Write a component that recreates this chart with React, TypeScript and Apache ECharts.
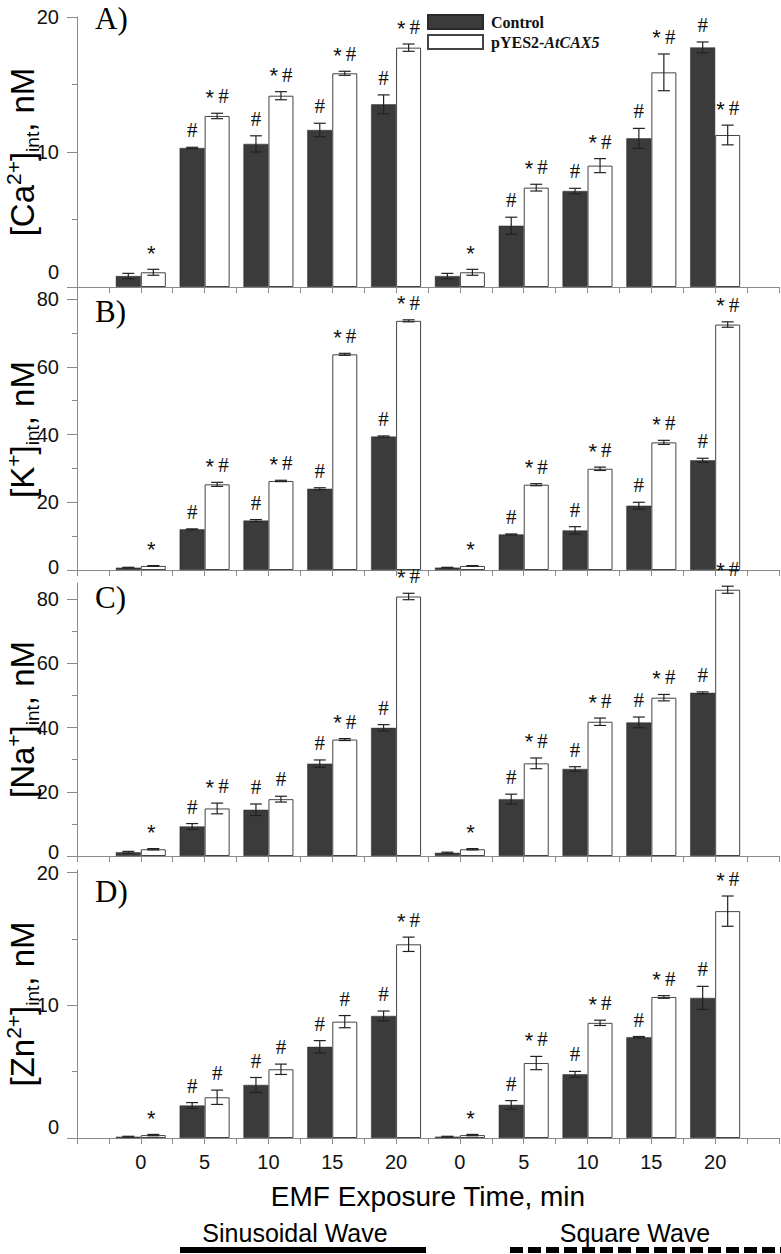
import React, { useEffect, useRef } from 'react';
import * as echarts from 'echarts';

// ---- categories / labels ----
const groupPos = [1, 2, 3, 4, 5, 6, 7, 8, 9, 10];
const timeLabels = ['0', '5', '10', '15', '20', '0', '5', '10', '15', '20'];
const seriesNames = ['Control', 'pYES2-AtCAX5'];
const waveLabels = ['Sinusoidal Wave', 'Square Wave'];
const panelLetters = ['A)', 'B)', 'C)', 'D)'];
const ionNames = ['Ca', 'K', 'Na', 'Zn'];
const ionCharges = ['2+', '+', '+', '2+'];

// ---- tick labels ----
const caTicks = [0, 10, 20];
const caMinorTicks = [5, 15];
const kTicks = [0, 20, 40, 60, 80];
const kMinorTicks = [10, 30, 50, 70];
const naTicks = [0, 20, 40, 60, 80];
const naMinorTicks = [10, 30, 50, 70];
const znTicks = [0, 10, 20];
const znMinorTicks = [5, 15];

// ---- A) Ca ----
const caControl = [0.81, 10.3, 10.6, 11.63, 13.53, 0.81, 4.54, 7.11, 11.01, 17.75];
const caControlErr = [0.2, 0.05, 0.6, 0.5, 0.7, 0.2, 0.63, 0.2, 0.74, 0.4];
const caCax = [1.09, 12.67, 14.17, 15.83, 17.73, 1.09, 7.36, 8.99, 15.9, 11.26];
const caCaxErr = [0.22, 0.2, 0.3, 0.15, 0.27, 0.22, 0.25, 0.52, 1.36, 0.73];
const caControlMarks = ['', '#', '#', '#', '#', '', '#', '#', '#', '#'];
const caCaxMarks = ['*', '*#', '*#', '*#', '*#', '*', '*#', '*#', '*#', '*#'];

// ---- B) K ----
const kControl = [0.7, 12.0, 14.6, 24.0, 39.4, 0.7, 10.5, 11.7, 19.0, 32.4];
const kControlErr = [0.1, 0.15, 0.3, 0.3, 0.2, 0.1, 0.15, 1.1, 1.0, 0.6];
const kCax = [1.2, 25.3, 26.3, 63.7, 73.6, 1.2, 25.2, 29.9, 37.7, 72.5];
const kCaxErr = [0.1, 0.6, 0.2, 0.3, 0.3, 0.1, 0.3, 0.5, 0.6, 0.8];
const kControlMarks = ['', '#', '#', '#', '#', '', '#', '#', '#', '#'];
const kCaxMarks = ['*', '*#', '*#', '*#', '*#', '*', '*#', '*#', '*#', '*#'];

// ---- C) Na ----
const naControl = [1.15, 9.2, 14.4, 28.75, 39.9, 1.0, 17.7, 27.1, 41.6, 50.8];
const naControlErr = [0.3, 0.9, 1.8, 1.15, 1.0, 0.2, 1.56, 0.7, 1.67, 0.3];
const naCax = [2.1, 14.8, 17.7, 36.25, 80.8, 2.1, 28.85, 41.8, 49.3, 82.9];
const naCaxErr = [0.2, 1.67, 0.9, 0.3, 1.0, 0.2, 1.67, 1.15, 1.0, 1.1];
const naControlMarks = ['', '#', '#', '#', '#', '', '#', '#', '#', '#'];
const naCaxMarks = ['*', '*#', '#', '*#', '*#', '*', '*#', '*#', '*#', '*#'];

// ---- D) Zn ----
const znControl = [0.1, 2.45, 4.0, 6.87, 9.2, 0.1, 2.5, 4.8, 7.6, 10.56];
const znControlErr = [0.03, 0.22, 0.56, 0.47, 0.37, 0.03, 0.32, 0.22, 0.05, 0.87];
const znCax = [0.22, 3.07, 5.18, 8.77, 14.6, 0.22, 5.65, 8.68, 10.63, 17.1];
const znCaxErr = [0.05, 0.54, 0.39, 0.46, 0.54, 0.05, 0.5, 0.2, 0.1, 1.14];
const znControlMarks = ['', '#', '#', '#', '#', '', '#', '#', '#', '#'];
const znCaxMarks = ['*', '#', '#', '#', '*#', '*', '*#', '*#', '*#', '*#'];

const panelData = [
  { ticks: caTicks, minor: caMinorTicks, c: caControl, cE: caControlErr, p: caCax, pE: caCaxErr, cM: caControlMarks, pM: caCaxMarks },
  { ticks: kTicks, minor: kMinorTicks, c: kControl, cE: kControlErr, p: kCax, pE: kCaxErr, cM: kControlMarks, pM: kCaxMarks },
  { ticks: naTicks, minor: naMinorTicks, c: naControl, cE: naControlErr, p: naCax, pE: naCaxErr, cM: naControlMarks, pM: naCaxMarks },
  { ticks: znTicks, minor: znMinorTicks, c: znControl, cE: znControlErr, p: znCax, pE: znCaxErr, cM: znControlMarks, pM: znCaxMarks },
];

// ---- layout / style ----
const GRID_LEFT = 77;
const GRID_RIGHT = 2;
const gridTops = [17, 289, 583, 870];
const gridHeights = [270, 281, 273, 268];
const yMax = [20, 83, 85, 20.2];
const zeroLift = [15, 3, 4, 11];
const letterY = [20, 313, 599, 893];
const HALF = 12.5;
const BAR_W = 25;
const CAP = 6;
const AXIS_COLOR = '#8a8a8a';
const DARK = '#3b3b3b';
const SANS = '"Liberation Sans", Arial, sans-serif';
const SERIF = '"Liberation Serif", "Times New Roman", serif';

function markText(m: string) {
  if (m === '*#') return '{s|*}{h|#}';
  if (m === '*') return '{s|*}';
  if (m === '#') return '{h|#}';
  return '';
}

function makeErrSeries(i: number, vals: number[], errs: number[], marks: string[], side: number) {
  return {
    type: 'custom',
    xAxisIndex: i,
    yAxisIndex: i * 2,
    clip: false,
    silent: true,
    z: 5,
    data: groupPos.map((x, j) => [x, vals[j], errs[j]]),
    renderItem: (params: any, api: any) => {
      const x = api.value(0);
      const v = api.value(1);
      const e = api.value(2);
      const hi = api.coord([x, v + e]);
      const lo = api.coord([x, v - e]);
      const cx = hi[0] + side * HALF;
      const stroke = { stroke: '#222', lineWidth: 1.2 };
      const mark = marks[params.dataIndex];
      return {
        type: 'group',
        children: [
          { type: 'line', shape: { x1: cx, y1: hi[1], x2: cx, y2: lo[1] }, style: stroke },
          { type: 'line', shape: { x1: cx - CAP, y1: hi[1], x2: cx + CAP, y2: hi[1] }, style: stroke },
          { type: 'line', shape: { x1: cx - CAP, y1: lo[1], x2: cx + CAP, y2: lo[1] }, style: stroke },
          {
            type: 'text',
            style: {
              text: markText(mark),
              x: cx,
              y: hi[1] - 17,
              align: 'center',
              verticalAlign: 'middle',
              textAlign: 'center',
              textVerticalAlign: 'middle',
              fill: '#111',
              rich: {
                s: { fontFamily: SANS, fontSize: 22, fill: '#111', padding: [2, 4, 0, 0] },
                h: { fontFamily: SERIF, fontSize: 21, fill: '#111' },
              },
            },
          },
        ],
      };
    },
  };
}

function buildOption() {
  const grid: any[] = [];
  const xAxis: any[] = [];
  const yAxis: any[] = [];
  const series: any[] = [];

  panelData.forEach((pd, i) => {
    grid.push({
      left: GRID_LEFT,
      right: GRID_RIGHT,
      top: gridTops[i],
      height: gridHeights[i],
      containLabel: false,
      outerBoundsMode: 'none',
    });
    const isLast = i === panelData.length - 1;
    xAxis.push({
      type: 'value',
      gridIndex: i,
      min: 0,
      max: 11,
      interval: 0.5,
      axisLine: { show: true, lineStyle: { color: AXIS_COLOR, width: 1 } },
      axisTick: { show: true, length: 6, lineStyle: { color: AXIS_COLOR } },
      splitLine: { show: false },
      axisLabel: {
        show: isLast,
        margin: 14,
        fontSize: 20,
        fontFamily: SANS,
        color: '#111',
        formatter: (v: number) => {
          const j = groupPos.indexOf(v);
          return j >= 0 ? timeLabels[j] : '';
        },
      },
      name: isLast ? 'EMF Exposure Time, min' : '',
      nameLocation: 'middle',
      nameGap: 44,
      nameMoveOverlap: false,
      nameTextStyle: { fontSize: 28, fontFamily: SANS, color: '#000' },
    });
    const lift = zeroLift[i];
    yAxis.push({
      type: 'value',
      gridIndex: i,
      min: 0,
      max: yMax[i],
      position: 'left',
      axisLine: { show: true, lineStyle: { color: AXIS_COLOR, width: 1 } },
      axisTick: { show: true, length: 10, customValues: pd.ticks, lineStyle: { color: AXIS_COLOR } },
      splitLine: { show: false },
      axisLabel: {
        customValues: pd.ticks,
        margin: 18,
        fontSize: 20,
        fontFamily: SANS,
        color: '#111',
        formatter: (v: number) => (v === 0 ? '{z|0}' : String(v)),
        rich: { z: { fontSize: 20, fontFamily: SANS, color: '#111', padding: [0, 0, lift * 2, 0] } },
      },
      name: `{b|[${ionNames[i]}}{sup|${ionCharges[i]}}{b|]}{sub|int}{b|, nM}`,
      nameLocation: 'middle',
      nameRotate: 90,
      nameGap: 35,
      nameMoveOverlap: false,
      nameTextStyle: {
        rich: {
          b: { fontSize: 33, fontFamily: SANS, color: '#000' },
          sup: { fontSize: 21, fontFamily: SANS, color: '#000', padding: [0, 0, 18, 0] },
          sub: { fontSize: 19, fontFamily: SANS, color: '#000', padding: [20, 0, 0, 0] },
        },
      },
    });
    yAxis.push({
      type: 'value',
      gridIndex: i,
      min: 0,
      max: yMax[i],
      position: 'left',
      axisLine: { show: false },
      axisTick: { show: true, length: 5, customValues: pd.minor, lineStyle: { color: AXIS_COLOR } },
      axisLabel: { show: false },
      splitLine: { show: false },
    });

    series.push({
      type: 'bar',
      name: seriesNames[0],
      xAxisIndex: i,
      yAxisIndex: i * 2,
      barWidth: BAR_W,
      barGap: '0%',
      itemStyle: { color: DARK, borderColor: '#2a2a2a', borderWidth: 0.5 },
      data: groupPos.map((x, j) => [x, pd.c[j]]),
    });
    series.push({
      type: 'bar',
      name: seriesNames[1],
      xAxisIndex: i,
      yAxisIndex: i * 2,
      barWidth: BAR_W,
      barGap: '0%',
      itemStyle: { color: '#ffffff', borderColor: '#444', borderWidth: 1 },
      data: groupPos.map((x, j) => [x, pd.p[j]]),
    });
    series.push(makeErrSeries(i, pd.c, pd.cE, pd.cM, -1));
    series.push(makeErrSeries(i, pd.p, pd.pE, pd.pM, 1));
  });

  const graphic: any[] = [];
  panelLetters.forEach((t, i) => {
    graphic.push({
      type: 'text',
      left: 95,
      top: letterY[i] - 17,
      style: { text: t, fontSize: 31, fontFamily: SERIF, fill: '#000' },
    });
  });
  graphic.push({
    type: 'text',
    x: 295,
    y: 1233,
    style: { text: waveLabels[0], fontSize: 25, fontFamily: SANS, fill: '#000', align: 'center', verticalAlign: 'middle', textAlign: 'center', textVerticalAlign: 'middle' },
  });
  graphic.push({
    type: 'text',
    x: 635,
    y: 1233,
    style: { text: waveLabels[1], fontSize: 25, fontFamily: SANS, fill: '#000', align: 'center', verticalAlign: 'middle', textAlign: 'center', textVerticalAlign: 'middle' },
  });
  graphic.push({
    type: 'line',
    shape: { x1: 180, y1: 1250, x2: 426, y2: 1250 },
    style: { stroke: '#000', lineWidth: 6 },
  });
  graphic.push({
    type: 'line',
    shape: { x1: 510, y1: 1250, x2: 781, y2: 1250 },
    style: { stroke: '#000', lineWidth: 6, lineDash: [13, 5] },
  });

  return {
    animation: false,
    backgroundColor: '#ffffff',
    grid,
    xAxis,
    yAxis,
    series,
    graphic,
    legend: {
      data: seriesNames,
      left: 427,
      top: 14,
      orient: 'vertical',
      itemWidth: 55,
      itemHeight: 14,
      itemGap: 4,
      padding: 0,
      selectedMode: false,
      icon: 'rect',
      formatter: (name: string) => (name === seriesNames[0] ? '{b|Control}' : '{b|pYES2-}{bi|AtCAX5}'),
      textStyle: {
        padding: [0, 0, 0, 3],
        rich: {
          b: { fontFamily: SERIF, fontWeight: 'bold', fontSize: 16, color: '#111', lineHeight: 14 },
          bi: { fontFamily: SERIF, fontWeight: 'bold', fontStyle: 'italic', fontSize: 16, color: '#111', lineHeight: 14 },
        },
      },
    },
  };
}

export default function App() {
  const ref = useRef<HTMLDivElement>(null);
  useEffect(() => {
    if (!ref.current) return;
    const chart = echarts.init(ref.current, undefined, { renderer: 'svg' });
    chart.setOption(buildOption() as any);
    return () => chart.dispose();
  }, []);
  return (
    <div
      ref={ref}
      style={{ position: 'absolute', left: 0, top: 0, width: 781, height: 1254, background: '#fff' }}
    />
  );
}
